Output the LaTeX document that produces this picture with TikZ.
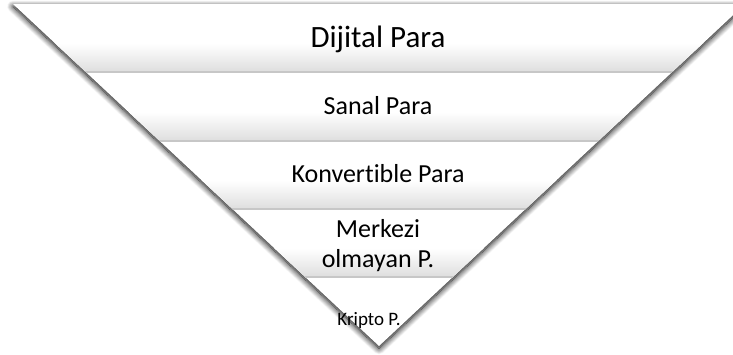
\documentclass[tikz,border=0pt]{standalone}
\usepackage{fontspec}
\setmainfont{Carlito}[Ligatures=NoCommon]
\usetikzlibrary{shadows.blur}
\tikzstyle{band} = [top color=white, bottom color=black!13]
\tikzstyle{bandline} = [draw=black!22, line width=1.5pt]
\tikzstyle{lbl} = [text=black, align=center, inner sep=0pt, font=\fontsize{26}{30}\selectfont]

\begin{document}
\begin{tikzpicture}[x=1pt,y=-1pt]
	\useasboundingbox (0,0) rectangle (733,354);
	\coordinate (tl) at (13,4);
	\coordinate (tr) at (745,4);
	\coordinate (apex) at (379,346);
	\fill[white, blur shadow={shadow xshift=0pt, shadow yshift=-2.5pt, shadow blur radius=6pt, shadow blur steps=12, shadow opacity=100}] (tl) -- (tr) -- (apex) -- cycle;
	\begin{scope}
		\clip (tl) -- (tr) -- (apex) -- cycle;
		\foreach \ya/\yb in {4/72, 72/141, 141/209, 209/277} {
			\shade[band] (0,{\yb-0.42*(\yb-\ya)}) rectangle (750,\yb);
			\draw[bandline] (0,\yb) -- (750,\yb);
		}
	\end{scope}
	\node[lbl, anchor=base, font=\fontsize{31}{34}\selectfont] (dijital) at (378,47) {Dijital Para};
	\node[lbl, anchor=base] (sanal) at (378,114) {Sanal Para};
	\node[lbl, anchor=base] (konvertible) at (378,182) {Konvertible Para};
	\node[lbl] (merkezi) at (378,246) {Merkezi\\olmayan P.};
	\node[lbl, anchor=base, font=\fontsize{19}{21}\selectfont] (kripto) at (369,325) {Kripto P.};
\end{tikzpicture}
\end{document}
